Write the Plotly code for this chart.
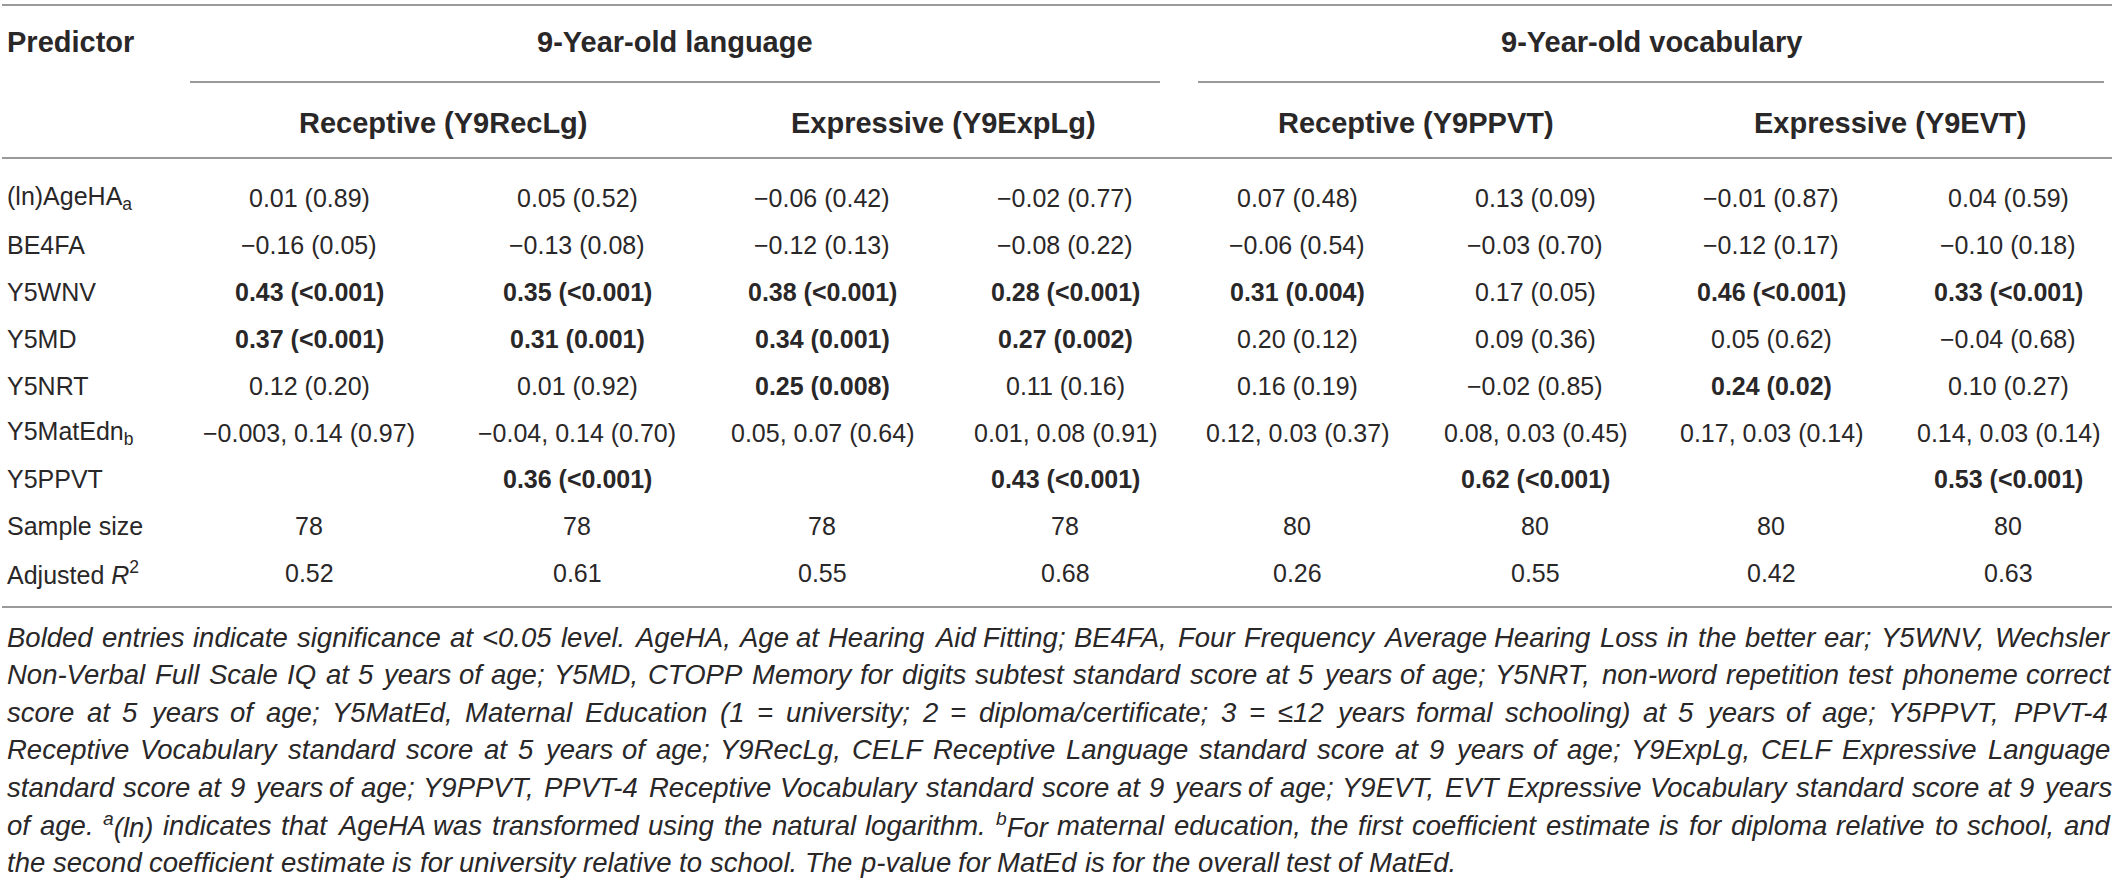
import re
import plotly.graph_objects as go

# ---- table content ----
predictors = ["(ln)AgeHA<sub>a</sub>", "BE4FA", "Y5WNV", "Y5MD", "Y5NRT",
              "Y5MatEdn<sub>b</sub>", "Y5PPVT", "Sample size", "Adjusted <i>R</i><sup>2</sup>"]
group_headers = ["9-Year-old language", "9-Year-old vocabulary"]
sub_headers = ["Receptive (Y9RecLg)", "Expressive (Y9ExpLg)",
               "Receptive (Y9PPVT)", "Expressive (Y9EVT)"]

age_ha = ["0.01 (0.89)", "0.05 (0.52)", "−0.06 (0.42)", "−0.02 (0.77)",
          "0.07 (0.48)", "0.13 (0.09)", "−0.01 (0.87)", "0.04 (0.59)"]
be4fa = ["−0.16 (0.05)", "−0.13 (0.08)", "−0.12 (0.13)", "−0.08 (0.22)",
         "−0.06 (0.54)", "−0.03 (0.70)", "−0.12 (0.17)", "−0.10 (0.18)"]
y5wnv = ["0.43 (<0.001)", "0.35 (<0.001)", "0.38 (<0.001)", "0.28 (<0.001)",
         "0.31 (0.004)", "0.17 (0.05)", "0.46 (<0.001)", "0.33 (<0.001)"]
y5md = ["0.37 (<0.001)", "0.31 (0.001)", "0.34 (0.001)", "0.27 (0.002)",
        "0.20 (0.12)", "0.09 (0.36)", "0.05 (0.62)", "−0.04 (0.68)"]
y5nrt = ["0.12 (0.20)", "0.01 (0.92)", "0.25 (0.008)", "0.11 (0.16)",
         "0.16 (0.19)", "−0.02 (0.85)", "0.24 (0.02)", "0.10 (0.27)"]
y5mated = ["−0.003, 0.14 (0.97)", "−0.04, 0.14 (0.70)", "0.05, 0.07 (0.64)", "0.01, 0.08 (0.91)",
           "0.12, 0.03 (0.37)", "0.08, 0.03 (0.45)", "0.17, 0.03 (0.14)", "0.14, 0.03 (0.14)"]
y5ppvt = ["", "0.36 (<0.001)", "", "0.43 (<0.001)",
          "", "0.62 (<0.001)", "", "0.53 (<0.001)"]
sample_size = [78, 78, 78, 78, 80, 80, 80, 80]
adj_r2 = [0.52, 0.61, 0.55, 0.68, 0.26, 0.55, 0.42, 0.63]

footnote = [
    "Bolded entries indicate significance at <0.05 level. AgeHA, Age at Hearing Aid Fitting; BE4FA, Four Frequency Average Hearing Loss in the better ear; Y5WNV, Wechsler",
    "Non-Verbal Full Scale IQ at 5 years of age; Y5MD, CTOPP Memory for digits subtest standard score at 5 years of age; Y5NRT, non-word repetition test phoneme correct",
    "score at 5 years of age; Y5MatEd, Maternal Education (1 = university; 2 = diploma/certificate; 3 = ≤12 years formal schooling) at 5 years of age; Y5PPVT, PPVT-4",
    "Receptive Vocabulary standard score at 5 years of age; Y9RecLg, CELF Receptive Language standard score at 9 years of age; Y9ExpLg, CELF Expressive Language",
    "standard score at 9 years of age; Y9PPVT, PPVT-4 Receptive Vocabulary standard score at 9 years of age; Y9EVT, EVT Expressive Vocabulary standard score at 9 years",
    "of age. ^a(ln) indicates that AgeHA was transformed using the natural logarithm. ^bFor maternal education, the first coefficient estimate is for diploma relative to school, and",
    "the second coefficient estimate is for university relative to school. The p-value for MatEd is for the overall test of MatEd.",
]

rows = [age_ha, be4fa, y5wnv, y5md, y5nrt, y5mated, y5ppvt,
        [str(v) for v in sample_size], ["%.2f" % v for v in adj_r2]]

# ---- layout constants ----
W, H = 2119, 881
col_x = [309, 577, 822, 1065, 1297, 1535, 1771, 2008]
row_y0, row_dy = 198, 46.9
foot_y0, foot_dy = 637, 37.6
text_left, text_right = 7, 2110
ink = "#2a2728"
rule = "#9a9a9a"
FONT = "Liberation Sans"
data_font = dict(family=FONT, size=25, color=ink)
head_font = dict(family=FONT, size=29, color=ink)

# Arial / Liberation Sans advance widths (1/1000 em)
_w = {" ": 278, "(": 333, ")": 333, ",": 278, "-": 333, ".": 278, "/": 278, ";": 278,
      "<": 584, "=": 584, "≤": 549, "−": 584,
      "A": 667, "B": 667, "C": 722, "D": 722, "E": 667, "F": 611, "G": 778, "H": 722,
      "I": 278, "J": 500, "K": 667, "L": 556, "M": 833, "N": 722, "O": 778, "P": 667,
      "Q": 778, "R": 722, "S": 667, "T": 611, "U": 722, "V": 667, "W": 944, "X": 667,
      "Y": 667, "Z": 611,
      "a": 556, "b": 556, "c": 500, "d": 556, "e": 556, "f": 278, "g": 556, "h": 556,
      "i": 222, "j": 222, "k": 500, "l": 222, "m": 833, "n": 556, "o": 556, "p": 556,
      "q": 556, "r": 333, "s": 500, "t": 278, "u": 556, "v": 500, "w": 722, "x": 500,
      "y": 500, "z": 500}


def word_width(word, size):
    total = 0.0
    for part in re.split(r"(\^[ab])", word):
        if part.startswith("^"):
            total += 0.7 * _w[part[1]]
        else:
            total += sum(_w.get(ch, 556) for ch in part)
    return total * size / 1000.0


def esc(s):
    return s.replace("<", "&lt;")


def markup(word):
    return re.sub(r"\^([ab])", r"<sup>\1</sup>", esc(word))


def significant(cell):
    m = re.search(r"\((<?)([0-9.]+)\)$", cell)
    if not m:
        return False
    return m.group(1) == "<" or float(m.group(2)) < 0.05


# footnote size: as large as possible (<= 28) while every justified line keeps real spaces
span = text_right - text_left
fits = []
for line in footnote[:-1]:
    words = line.split(" ")
    units = sum(word_width(w, 1000) for w in words) + 0.85 * 278 * (len(words) - 1)
    fits.append(span * 1000.0 / units)
foot_size = min([27.5] + fits)

fig = go.Figure()
ann = []

lang_line = (190, 1160)
voc_line = (1198, 2104)

ann.append(dict(x=text_left, y=42, text="<b>Predictor</b>", xanchor="left", font=head_font))
ann.append(dict(x=sum(lang_line) / 2, y=42, text="<b>%s</b>" % group_headers[0], font=head_font))
ann.append(dict(x=sum(voc_line) / 2, y=42, text="<b>%s</b>" % group_headers[1], font=head_font))
for i, h in enumerate(sub_headers):
    ann.append(dict(x=(col_x[2 * i] + col_x[2 * i + 1]) / 2, y=123,
                    text="<b>%s</b>" % h, font=head_font))

for r, (name, cells) in enumerate(zip(predictors, rows)):
    y = row_y0 + r * row_dy
    ann.append(dict(x=text_left, y=y, text=name, xanchor="left", font=data_font))
    for c, cell in enumerate(cells):
        if not cell:
            continue
        txt = esc(cell)
        if significant(cell):
            txt = "<b>%s</b>" % txt
        ann.append(dict(x=col_x[c], y=y, text=txt, font=data_font))

# footnote, justified word by word (last line ragged)
foot_font = dict(family=FONT, size=foot_size, color=ink)
for i, line in enumerate(footnote):
    y = foot_y0 + i * foot_dy
    words = line.split(" ")
    widths = [word_width(w, foot_size) for w in words]
    if i < len(footnote) - 1:
        gap = (span - sum(widths)) / (len(words) - 1)
    else:
        gap = word_width(" ", foot_size)
    x = text_left
    for w, wd in zip(words, widths):
        ann.append(dict(x=x, y=y, text="<i>%s</i>" % markup(w), xanchor="left", font=foot_font))
        x += wd + gap

for a in ann:
    a.update(xref="x", yref="y", showarrow=False, yanchor="middle", borderpad=0, borderwidth=0)
    a.setdefault("xanchor", "center")

shapes = []
for y in (5, 158, 607):
    shapes.append(dict(type="line", x0=2, x1=2112, y0=y, y1=y))
shapes.append(dict(type="line", x0=lang_line[0], x1=lang_line[1], y0=82, y1=82))
shapes.append(dict(type="line", x0=voc_line[0], x1=voc_line[1], y0=82, y1=82))
for s in shapes:
    s.update(xref="x", yref="y", line=dict(color=rule, width=2))

fig.update_layout(
    width=W, height=H,
    margin=dict(l=0, r=0, t=0, b=0),
    paper_bgcolor="white", plot_bgcolor="white",
    xaxis=dict(range=[0, W], visible=False, fixedrange=True),
    yaxis=dict(range=[H, 0], visible=False, fixedrange=True),
    annotations=ann, shapes=shapes, showlegend=False,
)

# drop the default page margin so figure pixels line up with the window
fig.write_html("out.html", config=dict(displayModeBar=False),
               post_script="document.body.style.margin='0px'; document.body.style.overflow='hidden';")
